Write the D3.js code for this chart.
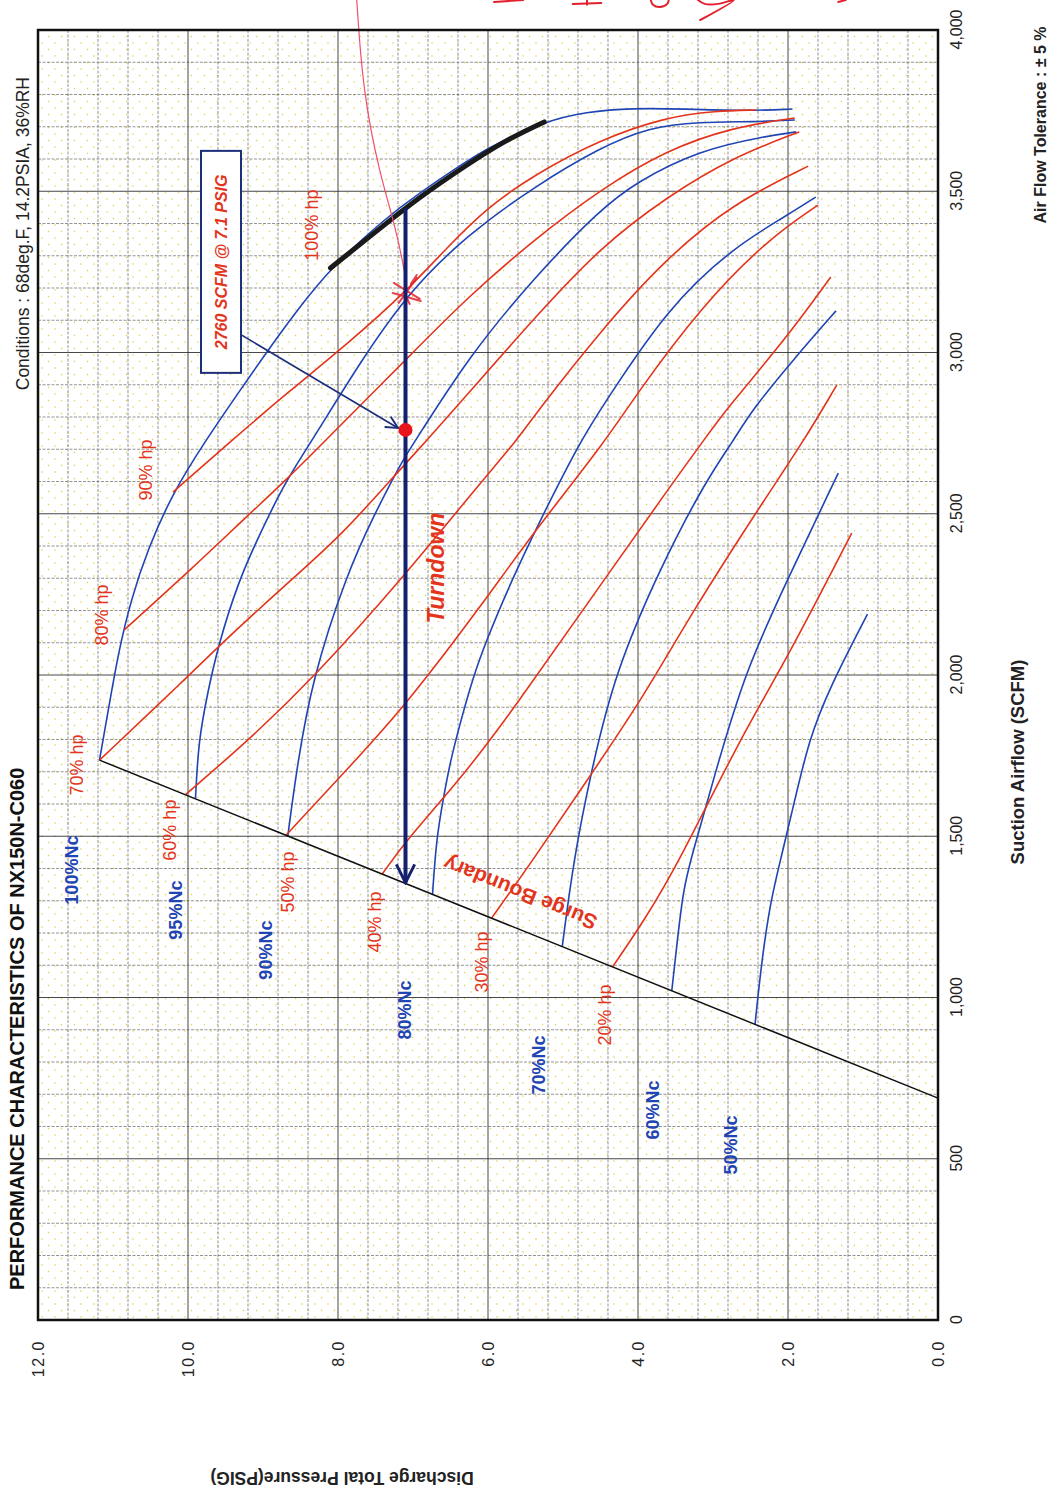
<!DOCTYPE html>
<html>
<head>
<meta charset="utf-8">
<script src="https://cdn.jsdelivr.net/npm/d3@7"></script>
<style>
  body { margin: 0; background: #fff; }
  svg text { font-family: "Liberation Sans", Arial, sans-serif; }
</style>
</head>
<body>
<div id="chart"></div>
<script>
// axis ticks
var scfmTicks = [0, 500, 1000, 1500, 2000, 2500, 3000, 3500, 4000];
var psigTicks = [0, 2, 4, 6, 8, 10, 12];

// [SCFM, PSIG]
var surgeLine = [[688, 0], [1736, 11.18]];

var nc100 = [[1736,11.18],[1922,11.04],[2078,10.92],[2233,10.76],[2388,10.54],[2567,10.20],[2729,9.76],[2878,9.32],[3008,8.93],[3132,8.54],[3262,8.10],[3420,7.35],[3495,6.91],[3566,6.46],[3634,6.02],[3718,5.23],[3746,4.70],[3758,4.07],[3755,3.40],[3749,2.52],[3755,1.94]];
var nc95 = [[1618,9.90],[1798,9.86],[1954,9.73],[2088,9.60],[2284,9.34],[2439,9.04],[2605,8.69],[2729,8.34],[2961,7.73],[3185,7.07],[3364,6.28],[3513,5.39],[3634,4.52],[3699,3.85],[3715,3.19],[3715,2.43],[3721,1.91]];
var nc90 = [[1499,8.67],[1695,8.56],[1985,8.35],[2315,7.88],[2491,7.53],[2667,7.14],[2729,6.96],[2986,6.26],[3234,5.38],[3442,4.51],[3529,4.02],[3628,3.18],[3671,2.29],[3684,1.89]];
var nc80 = [[1319,6.74],[1488,6.69],[1612,6.60],[1736,6.50],[1860,6.36],[1985,6.21],[2109,6.02],[2285,5.70],[2459,5.35],[2729,4.76],[2831,4.48],[3141,3.60],[3327,2.72],[3420,2.05],[3482,1.63]];
var nc70 = [[1158,5.01],[1426,4.86],[1696,4.63],[2006,4.31],[2335,3.70],[2605,3.09],[2729,2.72],[2822,2.48],[2986,1.90],[3129,1.36]];
var nc60 = [[1020,3.55],[1147,3.49],[1330,3.40],[1426,3.30],[1696,2.97],[2006,2.58],[2295,2.01],[2626,1.33]];
var nc50 = [[916,2.44],[1116,2.35],[1302,2.23],[1426,2.10],[1612,1.91],[1798,1.72],[1954,1.46],[2189,0.94]];

var hp100 = [[3262,8.10],[3402,7.35],[3482,6.91],[3581,6.29],[3659,5.76],[3715,5.25]];
var hp90 = [[2567,10.20],[2729,9.41],[2878,8.66],[3029,7.86],[3194,7.07],[3327,6.54],[3448,6.02],[3550,5.39],[3659,4.52],[3730,3.63],[3749,2.96],[3752,2.43]];
var hp80 = [[2140,10.85],[2336,9.92],[2491,9.22],[2605,8.69],[2729,8.16],[2986,7.06],[3172,6.27],[3349,5.39],[3504,4.51],[3628,3.62],[3699,2.73],[3727,1.91]];
var hp70 = [[1736,11.18],[1995,10.00],[2088,9.60],[2284,8.68],[2429,7.97],[2625,7.22],[2729,6.81],[2874,6.26],[3110,5.37],[3327,4.50],[3482,3.62],[3606,2.73],[3684,1.85]];
var hp60 = [[1630,10.03],[1798,9.19],[1995,8.31],[2305,7.12],[2594,6.11],[2729,5.61],[2812,5.36],[3070,4.49],[3296,3.61],[3464,2.72],[3578,1.73]];
var hp50 = [[1504,8.69],[1702,7.90],[1902,7.11],[2212,6.10],[2440,5.40],[2729,4.42],[2868,4.03],[3141,3.16],[3349,2.28],[3457,1.60]];
var hp40 = [[1383,7.41],[1488,7.09],[1684,6.34],[1901,5.64],[2223,4.67],[2595,3.54],[2729,3.12],[2831,2.80],[3039,2.04],[3234,1.43]];
var hp30 = [[1247,5.95],[1426,5.40],[1684,4.65],[1923,3.95],[2202,3.26],[2521,2.38],[2729,1.78],[2899,1.35]];
var hp20 = [[1095,4.34],[1237,3.92],[1426,3.44],[1798,2.65],[2056,2.00],[2440,1.15]];

// [text, SCFM, PSIG]
var ncLabels = [["100%Nc",1395,11.55],["95%Nc",1271,10.17],["90%Nc",1147,8.97],["80%Nc",961,7.11],["70%Nc",791,5.33],["60%Nc",651,3.80],["50%Nc",543,2.77]];
var hpLabels = [["70% hp",1721,11.49],["80% hp",2186,11.15],["90% hp",2636,10.57],["100% hp",3395,8.35],["60% hp",1519,10.24],["50% hp",1358,8.67],["40% hp",1234,7.51],["30% hp",1110,6.08],["20% hp",946,4.44]];

// operating point / turndown annotation
var opPoint = [2760, 7.1];
var turndown = [[3447, 7.1], [1356, 7.1]];
var noteBox = [3281, 9.56];
var noteArrow = [[3060, 9.33], [2766, 7.20]];
var turndownAt = [2332, 6.69];
var surgeTextAt = [1324, 5.57];

// pen marks on the print
var penLine = [[4093,7.75],[3814,7.67],[3557,7.45],[3380,7.22],[3234,7.10]];
var penMark = [3194, 7.07];
var penNotes = [
  [[4087,5.92],[4093,5.53]],
  [[4081,4.87],[4084,4.49]],
  [[4093,4.68],[4078,4.68]],
  [[4093,3.83],[4078,3.80],[4071,3.71],[4081,3.61],[4093,3.59]],
  [[4093,3.20],[4081,3.11],[4081,2.93],[4093,2.72],[4031,3.17]],
  [[4087,1.33],[4093,1.23]]
];

var blue = "#1f44b4", red = "#e3341c", navy = "#13206e";

var W = 1290, H = 900;

var svg = d3.select("#chart").append("svg")
    .attr("width", 1050)
    .attr("height", 1495);

var defs = svg.append("defs");
defs.append("pattern")
    .attr("id", "dots")
    .attr("patternUnits", "userSpaceOnUse")
    .attr("width", 13).attr("height", 13)
  .selectAll("circle")
    .data([[3, 4], [9.5, 10.5]])
    .enter().append("circle")
    .attr("cx", function(d) { return d[0]; })
    .attr("cy", function(d) { return d[1]; })
    .attr("r", 0.8)
    .attr("fill", "#e0d34a");

function arrowHead(id, color, w) {
  defs.append("marker")
      .attr("id", id)
      .attr("viewBox", "0 0 12 12")
      .attr("refX", 11).attr("refY", 6)
      .attr("markerWidth", w).attr("markerHeight", w)
      .attr("orient", "auto")
    .append("path")
      .attr("d", "M1,1 L11,6 L1,11")
      .attr("fill", "none")
      .attr("stroke", color)
      .attr("stroke-width", 1.6);
}
arrowHead("headBig", navy, 5.5);
arrowHead("headSmall", "#1b2f7a", 9);

// the whole map is drawn the normal way round and turned a quarter turn
var plot = svg.append("g")
    .attr("transform", "translate(38,1320) rotate(-90)");

var x = d3.scaleLinear().domain([0, 4000]).range([0, W]);
var y = d3.scaleLinear().domain([0, 12]).range([H, 0]);

plot.append("rect")
    .attr("width", W).attr("height", H)
    .attr("fill", "url(#dots)");

// grid
var grid = plot.append("g").attr("class", "grid");
grid.selectAll(".gx")
    .data(d3.range(100, 4000, 100))
    .enter().append("line")
    .attr("x1", x).attr("x2", x)
    .attr("y1", 0).attr("y2", H)
    .attr("stroke", function(d) { return d % 500 === 0 ? "#333" : "#666"; })
    .attr("stroke-width", function(d) { return d % 500 === 0 ? 0.9 : 0.7; })
    .attr("stroke-dasharray", function(d) { return d % 500 === 0 ? null : "3,1.5"; });
grid.selectAll(".gy")
    .data(d3.range(1, 30).map(function(i) { return i * 0.4; }))
    .enter().append("line")
    .attr("x1", 0).attr("x2", W)
    .attr("y1", y).attr("y2", y)
    .attr("stroke", function(d, i) { return (i + 1) % 5 === 0 ? "#333" : "#666"; })
    .attr("stroke-width", function(d, i) { return (i + 1) % 5 === 0 ? 0.9 : 0.7; })
    .attr("stroke-dasharray", function(d, i) { return (i + 1) % 5 === 0 ? null : "3,1.5"; });

// axes
var xAxis = plot.append("g")
    .attr("transform", "translate(0," + H + ")")
    .call(d3.axisBottom(x).tickValues(scfmTicks).tickFormat(d3.format(",")).tickSize(0).tickPadding(13));
var yAxis = plot.append("g")
    .call(d3.axisLeft(y).tickValues(psigTicks).tickFormat(d3.format(".1f")).tickSize(0).tickPadding(20));
[xAxis, yAxis].forEach(function(a) {
  a.select(".domain").remove();
  a.selectAll("text")
      .attr("font-size", 16)
      .attr("fill", "#222")
      .style("font-family", '"Liberation Sans", Arial, sans-serif');
});
yAxis.selectAll("text").attr("letter-spacing", 1.5);

var line = d3.line()
    .x(function(d) { return x(d[0]); })
    .y(function(d) { return y(d[1]); })
    .curve(d3.curveBasis);
var straight = d3.line()
    .x(function(d) { return x(d[0]); })
    .y(function(d) { return y(d[1]); });

// speed lines & power lines
plot.selectAll(".nc")
    .data([nc100, nc95, nc90, nc80, nc70, nc60, nc50])
    .enter().append("path")
    .attr("class", "nc")
    .attr("d", line)
    .attr("fill", "none")
    .attr("stroke", blue)
    .attr("stroke-width", 1.6);

plot.selectAll(".hp")
    .data([hp100, hp90, hp80, hp70, hp60, hp50, hp40, hp30, hp20])
    .enter().append("path")
    .attr("class", "hp")
    .attr("d", line)
    .attr("fill", "none")
    .attr("stroke", red)
    .attr("stroke-width", 1.6);

plot.append("path")
    .attr("d", straight(surgeLine))
    .attr("fill", "none")
    .attr("stroke", "#111")
    .attr("stroke-width", 1.5);

// hand-marked 100% hp line
plot.append("path")
    .attr("d", line(hp100))
    .attr("fill", "none")
    .attr("stroke", "#1a1a1a")
    .attr("stroke-width", 5)
    .attr("stroke-linecap", "round");

// pen marks
plot.append("path")
    .attr("d", line(penLine))
    .attr("fill", "none")
    .attr("stroke", "#f0506e")
    .attr("stroke-width", 1.2);
plot.append("path")
    .attr("transform", "translate(" + x(penMark[0]) + "," + y(penMark[1]) + ")")
    .attr("d", "M-13,-9 L12,9 M-9,12 L7,-14 M-3,-15 L-11,13 M6,3 L15,9 M-14,2 L-2,-4")
    .attr("fill", "none")
    .attr("stroke", "#e3202e")
    .attr("stroke-width", 2)
    .attr("stroke-linecap", "round")
    .attr("opacity", 0.85);
plot.selectAll(".note")
    .data(penNotes)
    .enter().append("path")
    .attr("d", d3.line().x(function(d) { return x(d[0]); }).y(function(d) { return y(d[1]); }).curve(d3.curveCatmullRom))
    .attr("fill", "none")
    .attr("stroke", "#e3202e")
    .attr("stroke-width", 2)
    .attr("stroke-linecap", "round");

// turndown
plot.append("line")
    .attr("x1", x(turndown[0][0])).attr("y1", y(turndown[0][1]))
    .attr("x2", x(turndown[1][0])).attr("y2", y(turndown[1][1]))
    .attr("stroke", navy)
    .attr("stroke-width", 4)
    .attr("marker-end", "url(#headBig)");

plot.append("line")
    .attr("x1", x(noteArrow[0][0])).attr("y1", y(noteArrow[0][1]))
    .attr("x2", x(noteArrow[1][0])).attr("y2", y(noteArrow[1][1]))
    .attr("stroke", "#1b2f7a")
    .attr("stroke-width", 1.6)
    .attr("marker-end", "url(#headSmall)");

plot.append("circle")
    .attr("cx", x(opPoint[0])).attr("cy", y(opPoint[1]))
    .attr("r", 7)
    .attr("fill", "#e8141b");

var box = plot.append("g")
    .attr("transform", "translate(" + x(noteBox[0]) + "," + y(noteBox[1]) + ")");
box.append("rect")
    .attr("x", -111).attr("y", -20)
    .attr("width", 222).attr("height", 40)
    .attr("fill", "#fff")
    .attr("stroke", "#1b2f7a")
    .attr("stroke-width", 2);
box.append("text")
    .attr("text-anchor", "middle")
    .attr("dy", "0.35em")
    .attr("font-size", 16)
    .attr("font-weight", "bold")
    .attr("font-style", "italic")
    .attr("fill", red)
    .text("2760 SCFM @ 7.1 PSIG");

plot.append("text")
    .attr("x", x(turndownAt[0])).attr("y", y(turndownAt[1]))
    .attr("dy", "0.35em")
    .attr("text-anchor", "middle")
    .attr("font-size", 23)
    .attr("font-weight", "bold")
    .attr("font-style", "italic")
    .attr("fill", red)
    .text("Turndown");

plot.append("text")
    .attr("transform", "translate(" + x(surgeTextAt[0]) + "," + y(surgeTextAt[1]) + ") rotate(-68)")
    .attr("dy", "0.35em")
    .attr("text-anchor", "middle")
    .attr("font-size", 21)
    .attr("font-weight", "bold")
    .attr("fill", red)
    .text("Surge Boundary");

// curve labels
plot.selectAll(".ncLabel")
    .data(ncLabels)
    .enter().append("text")
    .attr("x", function(d) { return x(d[1]); })
    .attr("y", function(d) { return y(d[2]); })
    .attr("dy", "0.35em")
    .attr("text-anchor", "middle")
    .attr("font-size", 18)
    .attr("font-weight", "bold")
    .attr("fill", blue)
    .text(function(d) { return d[0]; });

plot.selectAll(".hpLabel")
    .data(hpLabels)
    .enter().append("text")
    .attr("x", function(d) { return x(d[1]); })
    .attr("y", function(d) { return y(d[2]); })
    .attr("dy", "0.35em")
    .attr("text-anchor", "middle")
    .attr("font-size", 18)
    .attr("fill", red)
    .text(function(d) { return d[0]; });

// frame
plot.append("rect")
    .attr("width", W).attr("height", H)
    .attr("fill", "none")
    .attr("stroke", "#111")
    .attr("stroke-width", 2.5);

// titles
plot.append("text")
    .attr("x", 30).attr("y", -14)
    .attr("font-size", 20)
    .attr("font-weight", "bold")
    .attr("fill", "#111")
    .text("PERFORMANCE CHARACTERISTICS OF NX150N-C060");

plot.append("text")
    .attr("x", W - 47).attr("y", -9)
    .attr("text-anchor", "end")
    .attr("font-size", 17.5)
    .attr("fill", "#222")
    .text("Conditions : 68deg.F, 14.2PSIA, 36%RH");

plot.append("text")
    .attr("x", 558).attr("y", H + 86)
    .attr("text-anchor", "middle")
    .attr("font-size", 18.5)
    .attr("font-weight", "bold")
    .attr("fill", "#222")
    .text("Suction Airflow (SCFM)");

plot.append("text")
    .attr("x", 1195).attr("y", H + 108)
    .attr("text-anchor", "middle")
    .attr("font-size", 16)
    .attr("font-weight", "bold")
    .attr("fill", "#222")
    .text("Air Flow Tolerance : \u00b1 5 %");

plot.append("text")
    .attr("transform", "translate(-152," + (H / 2 - 146) + ") rotate(-90)")
    .attr("text-anchor", "middle")
    .attr("font-size", 17.5)
    .attr("font-weight", "bold")
    .attr("fill", "#222")
    .text("Discharge Total Pressure(PSIG)");
</script>
</body>
</html>
